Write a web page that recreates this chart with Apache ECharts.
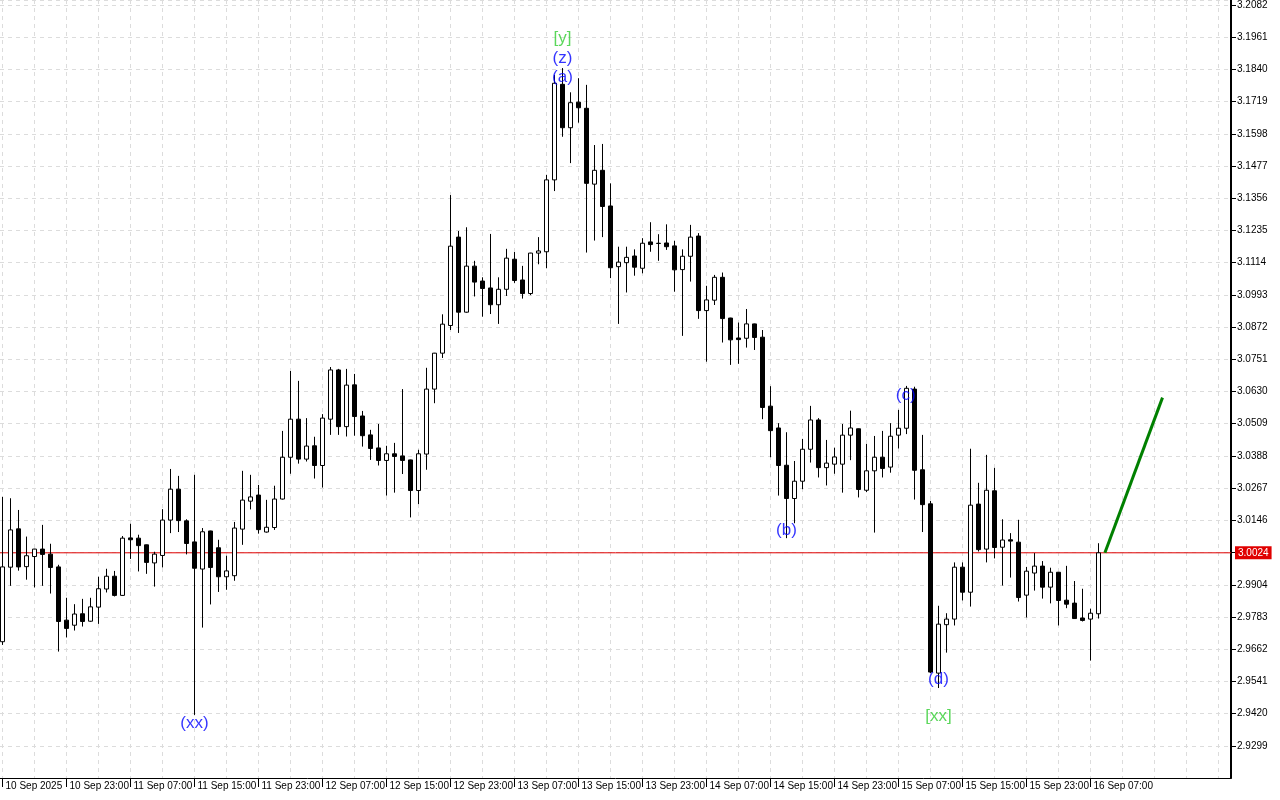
<!DOCTYPE html>
<html>
<head>
<meta charset="utf-8">
<script src="https://cdn.jsdelivr.net/npm/echarts@6/dist/echarts.min.js"></script>
<style>
  html, body { margin: 0; padding: 0; background: #fff; }
  #chart { width: 1280px; height: 800px; }
</style>
</head>
<body>
<div id="chart"></div>
<script>
// hourly bars, bar 0 = 10 Sep 2025 15:00
const opens = [
  2.9690, 2.9970, 3.0114, 2.9972, 3.0010, 3.0038, 3.0019, 2.9971, 2.9771, 2.9752,
  2.9795, 2.9767, 2.9820, 2.9888, 2.9936, 2.9864, 3.0080, 3.0079, 3.0054, 2.9986,
  3.0014, 3.0147, 3.0263, 3.0144, 3.0065, 2.9963, 3.0106, 3.0043, 2.9934, 2.9938,
  3.0113, 3.0218, 3.0241, 3.0102, 3.0119, 3.0226, 3.0383, 3.0526, 3.0376, 3.0426,
  3.0352, 3.0526, 3.0711, 3.0498, 3.0655, 3.0538, 3.0467, 3.0418, 3.0371, 3.0396,
  3.0388, 3.0373, 3.0258, 3.0395, 3.0639, 3.0774, 3.0878, 3.1210, 3.0928, 3.1101,
  3.1045, 3.1019, 3.0956, 3.1014, 3.1127, 3.1049, 3.0998, 3.1150, 3.1155, 3.1425,
  3.1784, 3.1621, 3.1717, 3.1694, 3.1409, 3.1461, 3.1327, 3.1099, 3.1114, 3.1139,
  3.1093, 3.1192, 3.1187, 3.1188, 3.1177, 3.1088, 3.1138, 3.1214, 3.0934, 3.0973,
  3.1059, 3.0906, 3.0831, 3.0830, 3.0884, 3.0834, 3.0575, 3.0493, 3.0353, 3.0228,
  3.0293, 3.0413, 3.0523, 3.0344, 3.0357, 3.0357, 3.0466, 3.0490, 3.0259, 3.0332,
  3.0383, 3.0346, 3.0466, 3.0492, 3.0639, 3.0336, 3.0208, 2.9572, 2.9754, 2.9775,
  2.9970, 2.9876, 3.0207, 3.0038, 3.0257, 3.0045, 3.0073, 3.0064, 2.9865, 2.9948,
  2.9974, 2.9895, 2.9951, 2.9846, 2.9835, 2.9779, 2.9775, 2.9795
];
const closes = [
  2.9971, 3.0110, 2.9971, 3.0013, 3.0038, 3.0018, 2.9969, 2.9766, 2.9740, 2.9794,
  2.9766, 2.9821, 2.9889, 2.9936, 2.9864, 3.0079, 3.0073, 3.0051, 2.9988, 3.0019,
  3.0147, 3.0263, 3.0145, 3.0059, 2.9966, 3.0103, 2.9969, 2.9934, 2.9956, 3.0117,
  3.0222, 3.0234, 3.0111, 3.0120, 3.0226, 3.0383, 3.0526, 3.0376, 3.0425, 3.0352,
  3.0530, 3.0711, 3.0498, 3.0654, 3.0536, 3.0464, 3.0416, 3.0371, 3.0396, 3.0386,
  3.0371, 3.0258, 3.0396, 3.0639, 3.0774, 3.0883, 3.1176, 3.0928, 3.1101, 3.1041,
  3.1017, 3.0956, 3.1014, 3.1131, 3.1047, 3.0998, 3.1150, 3.1158, 3.1425, 3.1788,
  3.1621, 3.1715, 3.1696, 3.1412, 3.1461, 3.1325, 3.1095, 3.1116, 3.1134, 3.1097,
  3.1187, 3.1182, 3.1186, 3.1174, 3.1087, 3.1138, 3.1210, 3.0934, 3.0974, 3.1059,
  3.0904, 3.0824, 3.0825, 3.0884, 3.0833, 3.0570, 3.0483, 3.0352, 3.0228, 3.0293,
  3.0413, 3.0523, 3.0344, 3.0361, 3.0384, 3.0466, 3.0493, 3.0262, 3.0332, 3.0383,
  3.0341, 3.0462, 3.0492, 3.0642, 3.0334, 3.0205, 2.9576, 2.9756, 2.9775, 2.9970,
  2.9876, 3.0203, 3.0036, 3.0259, 3.0044, 3.0072, 3.0068, 2.9856, 2.9955, 2.9974,
  2.9895, 2.9951, 2.9845, 2.9831, 2.9777, 2.9770, 2.9797, 3.0024
];
const lows = [
  2.9678, 2.9900, 2.9957, 2.9923, 2.9894, 2.9900, 2.9871, 2.9653, 2.9706, 2.9732,
  2.9747, 2.9765, 2.9757, 2.9875, 2.9860, 2.9862, 3.0001, 2.9954, 2.9945, 2.9897,
  2.9969, 3.0098, 3.0102, 3.0018, 2.9415, 2.9743, 2.9830, 2.9877, 2.9885, 2.9919,
  3.0054, 3.0187, 3.0096, 3.0100, 3.0110, 3.0224, 3.0321, 3.0359, 3.0367, 3.0303,
  3.0269, 3.0467, 3.0467, 3.0461, 3.0464, 3.0423, 3.0373, 3.0352, 3.0239, 3.0250,
  3.0320, 3.0157, 3.0207, 3.0336, 3.0586, 3.0756, 3.0861, 3.0850, 3.0926, 3.0987,
  3.0911, 3.0921, 3.0884, 3.0989, 3.1038, 3.0979, 3.0992, 3.1108, 3.1093, 3.1383,
  3.1587, 3.1488, 3.1640, 3.1152, 3.1197, 3.1210, 3.1056, 3.0884, 3.1002, 3.1065,
  3.1074, 3.1155, 3.1121, 3.1162, 3.1005, 3.0839, 3.1043, 3.0903, 3.0742, 3.0955,
  3.0814, 3.0730, 3.0734, 3.0795, 3.0786, 3.0526, 3.0383, 3.0239, 3.0079, 3.0135,
  3.0263, 3.0363, 3.0307, 3.0277, 3.0321, 3.0250, 3.0372, 3.0232, 3.0252, 3.0100,
  3.0307, 3.0325, 3.0416, 3.0470, 3.0224, 3.0102, 2.9572, 2.9516, 2.9649, 2.9751,
  2.9845, 2.9822, 3.0029, 2.9988, 3.0003, 2.9901, 2.9931, 2.9841, 2.9781, 2.9882,
  2.9852, 2.9834, 2.9751, 2.9816, 2.9776, 2.9766, 2.9619, 2.9777
];
const highs = [
  3.0234, 3.0229, 3.0185, 3.0085, 3.0039, 3.0129, 3.0058, 2.9979, 2.9855, 2.9831,
  2.9851, 2.9855, 2.9934, 2.9964, 2.9956, 3.0087, 3.0133, 3.0092, 3.0055, 3.0028,
  3.0188, 3.0339, 3.0313, 3.0150, 3.0317, 3.0117, 3.0107, 3.0073, 3.0013, 3.0140,
  3.0332, 3.0317, 3.0279, 3.0223, 3.0276, 3.0482, 3.0707, 3.0670, 3.0530, 3.0460,
  3.0545, 3.0722, 3.0715, 3.0715, 3.0696, 3.0557, 3.0486, 3.0508, 3.0426, 3.0437,
  3.0639, 3.0374, 3.0411, 3.0719, 3.0775, 3.0920, 3.1368, 3.1233, 3.1247, 3.1121,
  3.1059, 3.1222, 3.1059, 3.1166, 3.1154, 3.1102, 3.1151, 3.1210, 3.1444, 3.1819,
  3.1845, 3.1754, 3.1807, 3.1782, 3.1556, 3.1560, 3.1412, 3.1174, 3.1174, 3.1164,
  3.1206, 3.1266, 3.1221, 3.1258, 3.1196, 3.1164, 3.1256, 3.1225, 3.1027, 3.1068,
  3.1077, 3.0907, 3.0889, 3.0940, 3.0885, 3.0861, 3.0650, 3.0511, 3.0477, 3.0369,
  3.0452, 3.0576, 3.0530, 3.0448, 3.0419, 3.0508, 3.0558, 3.0491, 3.0433, 3.0463,
  3.0482, 3.0511, 3.0561, 3.0651, 3.0648, 3.0467, 3.0219, 2.9825, 2.9797, 2.9988,
  2.9988, 3.0415, 3.0287, 3.0392, 3.0343, 3.0150, 3.0098, 3.0148, 2.9971, 3.0023,
  2.9993, 2.9968, 2.9952, 2.9975, 2.9918, 2.9889, 2.9814, 3.0060
];

// time labels, one every 8 bars
const labelBars = [0, 8, 16, 24, 32, 40, 48, 56, 64, 72, 80, 88, 96, 104, 112, 120, 128, 136];
const timeLabels = [
  '10 Sep 2025', '10 Sep 23:00', '11 Sep 07:00', '11 Sep 15:00', '11 Sep 23:00',
  '12 Sep 07:00', '12 Sep 15:00', '12 Sep 23:00', '13 Sep 07:00', '13 Sep 15:00',
  '13 Sep 23:00', '14 Sep 07:00', '14 Sep 15:00', '14 Sep 23:00', '15 Sep 07:00',
  '15 Sep 15:00', '15 Sep 23:00', '16 Sep 07:00'
];
// vertical grid every 4 bars
const gridBars = [];
for (let b = 0; b <= 152; b += 4) gridBars.push(b);

const lastPrice = 3.0024;

// wave marks: bar, price, text
const waveBlue = [
  [24, 2.9385, '(xx)'],
  [70, 3.1812, '(a)'],
  [70, 3.1883, '(z)'],
  [98, 3.0110, '(b)'],
  [112.9, 3.0617, '(c)'],
  [117, 2.9547, '(d)']
];
const waveGreen = [
  [70, 3.1958, '[y]'],
  [117, 2.9408, '[xx]']
];

// projected move
const forecastBars = [137.8, 145];
const forecastPrices = [3.0024, 3.0607];

const X_MIN = -0.3125, X_MAX = 153.5625;

const candleData = opens.map((o, i) => [i, o, closes[i], lows[i], highs[i]]);

const chart = echarts.init(document.getElementById('chart'));

const gridDash = { color: '#dcdcdc', type: [4, 4], width: 1 };

chart.setOption({
  animation: false,
  backgroundColor: '#ffffff',
  textStyle: { fontFamily: 'Liberation Sans' },
  grid: { left: 0, right: 49, top: 0, bottom: 22 },
  xAxis: [
    {
      type: 'value',
      min: X_MIN,
      max: X_MAX,
      axisLine: { show: false },
      axisTick: { show: false, customValues: gridBars },
      axisLabel: { show: false },
      splitLine: { show: true, lineStyle: gridDash }
    },
    {
      type: 'value',
      position: 'bottom',
      min: X_MIN,
      max: X_MAX,
      axisLine: { show: true, onZero: false, lineStyle: { color: '#000', width: 1 } },
      axisTick: { show: true, length: 9, customValues: labelBars, lineStyle: { color: '#000' } },
      axisLabel: {
        customValues: labelBars,
        align: 'left',
        margin: 3,
        padding: [0, 0, 0, 3],
        color: '#000',
        fontSize: 10,
        formatter: v => {
          const k = labelBars.indexOf(Math.round(v));
          return k >= 0 ? timeLabels[k] : '';
        }
      },
      splitLine: { show: false }
    }
  ],
  yAxis: {
    type: 'value',
    position: 'right',
    min: 2.9178,
    max: 3.21008,
    interval: 0.0121,
    axisLine: { show: true, onZero: false, lineStyle: { color: '#000', width: 2 } },
    axisTick: { show: true, length: 5, lineStyle: { color: '#000' } },
    axisLabel: {
      margin: 6,
      color: '#000',
      fontSize: 10,
      showMinLabel: false,
      showMaxLabel: false,
      formatter: v => (Math.abs(v - 3.0025) < 1e-6 ? '' : v.toFixed(4))
    },
    splitLine: { show: true, lineStyle: gridDash }
  },
  series: [
    {
      type: 'line',
      name: 'price',
      data: [[X_MIN, lastPrice], [X_MAX, lastPrice]],
      symbol: 'none',
      silent: true,
      lineStyle: { color: '#e00000', width: 1 },
      endLabel: {
        show: true,
        distance: 4,
        formatter: lastPrice.toFixed(4),
        color: '#fff',
        backgroundColor: '#e00000',
        padding: [2, 3, 1, 3],
        fontSize: 10
      },
      z: 1
    },
    {
      type: 'candlestick',
      data: candleData,
      barWidth: 4,
      itemStyle: {
        color: '#ffffff',
        color0: '#000000',
        borderColor: '#000000',
        borderColor0: '#000000',
        borderWidth: 1
      },
      z: 3
    },
    {
      type: 'line',
      data: forecastBars.map((b, i) => [b, forecastPrices[i]]),
      symbol: 'none',
      lineStyle: { color: '#008000', width: 3 },
      z: 5
    },
    {
      type: 'scatter',
      data: waveBlue,
      symbolSize: 0,
      label: {
        show: true,
        position: 'inside',
        formatter: p => p.data[2],
        color: '#0000ff',
        fontSize: 17
      },
      z: 6
    },
    {
      type: 'scatter',
      data: waveGreen,
      symbolSize: 0,
      label: {
        show: true,
        position: 'inside',
        formatter: p => p.data[2],
        color: '#32cd32',
        fontSize: 17
      },
      z: 6
    }
  ]
});
</script>
</body>
</html>
